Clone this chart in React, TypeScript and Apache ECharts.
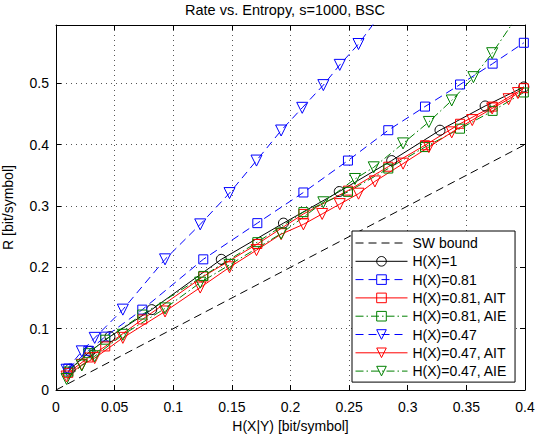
import React, { useEffect, useRef } from "react";
import * as echarts from "echarts";

// ---- data ----
const xTickLabels = ["0", "0.05", "0.1", "0.15", "0.2", "0.25", "0.3", "0.35", "0.4"];
const yTickLabels = ["0", "0.1", "0.2", "0.3", "0.4", "0.5"];

const swX = [0, 0.4];
const swY = [0, 0.4];

const h1X = [0.012, 0.029, 0.046, 0.0816, 0.141, 0.194, 0.2416, 0.2863, 0.3275, 0.366, 0.399];
const h1Y = [0.034, 0.063, 0.087, 0.131, 0.213, 0.272, 0.3235, 0.374, 0.4235, 0.463, 0.494];

const h081X = [0.0105, 0.0276, 0.042, 0.0736, 0.1256, 0.1717, 0.211, 0.249, 0.2834, 0.3147, 0.3446, 0.3724, 0.399];
const h081Y = [0.035, 0.064, 0.087, 0.131, 0.213, 0.272, 0.322, 0.374, 0.4235, 0.462, 0.498, 0.532, 0.566];
const h081AitY = [0.028, 0.053, 0.071, 0.115, 0.185, 0.238, 0.287, 0.325, 0.364, 0.399, 0.434, 0.462, 0.492];
const h081AieY = [0.03, 0.06, 0.082, 0.123, 0.186, 0.241, 0.29, 0.323, 0.361, 0.396, 0.426, 0.455, 0.485];

const h047X = [0.009, 0.022, 0.033, 0.057, 0.093, 0.123, 0.148, 0.171, 0.192, 0.21, 0.228, 0.242, 0.258, 0.272];
const h047Y = [0.033, 0.063, 0.085, 0.131, 0.213, 0.27, 0.321, 0.374, 0.423, 0.46, 0.497, 0.53, 0.564, 0.6];

const h047AitX = [0.009, 0.022, 0.033, 0.057, 0.093, 0.123, 0.148, 0.171, 0.192, 0.211, 0.227, 0.242, 0.258, 0.272, 0.296, 0.318, 0.3375, 0.355, 0.372, 0.386, 0.394];
const h047AitY = [0.022, 0.041, 0.052, 0.085, 0.128, 0.167, 0.2, 0.228, 0.254, 0.27, 0.287, 0.303, 0.32, 0.34, 0.369, 0.396, 0.42, 0.44, 0.459, 0.474, 0.484];

const h047AieX = [0.009, 0.022, 0.033, 0.057, 0.093, 0.123, 0.148, 0.192, 0.228, 0.255, 0.271, 0.296, 0.318, 0.3375, 0.356, 0.372, 0.399];
const h047AieY = [0.018, 0.04, 0.055, 0.09, 0.133, 0.175, 0.204, 0.255, 0.306, 0.344, 0.363, 0.402, 0.437, 0.472, 0.51, 0.549, 0.625];

const FONT = "Liberation Sans, Arial, Helvetica, sans-serif";
const BLUE = "#0000ff";
const RED = "#ff0000";
const GREEN = "#008000";
const BLACK = "#000000";
const DASH = [8, 5];
const DASHDOT = [8, 3, 1.5, 3];

function mk(
  name: string,
  xs: number[],
  ys: number[],
  color: string,
  dash: any,
  symbol: string,
  size: number,
  rotate: number
) {
  return {
    type: "line",
    name,
    data: xs.map((x, i) => [x, ys[i]]),
    symbol,
    symbolSize: size,
    symbolRotate: rotate,
    showSymbol: symbol !== "none",
    clip: true,
    lineStyle: { color, width: 1, type: dash },
    itemStyle: {
      color: "rgba(255,255,255,0)",
      borderColor: symbol === "none" ? "rgba(0,0,0,0)" : color,
      borderWidth: 1,
    },
    emphasis: { disabled: true },
    silent: true,
  };
}

export default function App() {
  const ref = useRef<HTMLDivElement>(null);
  useEffect(() => {
    document.body.style.margin = "0";
    if (!ref.current) return;
    const chart = echarts.init(ref.current, null, { renderer: "svg" });
    const gridLine = { show: true, lineStyle: { color: "#555", width: 1, type: [1, 4] } };
    const xFmt = (v: number) => {
      const i = Math.round(v / 0.05);
      return Math.abs(i * 0.05 - v) < 1e-6 && i < xTickLabels.length ? xTickLabels[i] : "";
    };
    const yFmt = (v: number) => {
      const i = Math.round(v / 0.1);
      return Math.abs(i * 0.1 - v) < 1e-6 && i < yTickLabels.length ? yTickLabels[i] : "";
    };
    const axisCommon = {
      axisLine: { show: true, onZero: false, lineStyle: { color: BLACK, width: 1 } },
      axisTick: { show: true, inside: true, length: 5, lineStyle: { color: BLACK } },
    };
    chart.setOption({
      animation: false,
      backgroundColor: "#fff",
      textStyle: { fontFamily: FONT },
      grid: { left: 56, top: 25, right: 10, bottom: 44, containLabel: false, outerBoundsMode: "none" },
      graphic: [
        {
          type: "text",
          x: 285,
          y: 10,
          style: {
            text: "Rate vs. Entropy, s=1000, BSC",
            fontSize: 14.5,
            fontFamily: FONT,
            fill: BLACK,
            textAlign: "center",
            textVerticalAlign: "middle",
          },
        },
      ],
      xAxis: [
        {
          type: "value",
          min: 0,
          max: 0.4,
          interval: 0.05,
          position: "bottom",
          ...axisCommon,
          splitLine: gridLine,
          axisLabel: { formatter: xFmt, color: BLACK, fontSize: 14, fontFamily: FONT, margin: 10 },
          name: "H(X|Y) [bit/symbol]",
          nameLocation: "middle",
          nameGap: 25,
          nameTextStyle: { color: BLACK, fontSize: 14, fontFamily: FONT },
        },
        {
          type: "value",
          min: 0,
          max: 0.4,
          interval: 0.05,
          position: "top",
          ...axisCommon,
          splitLine: { show: false },
          axisLabel: { show: false },
        },
      ],
      yAxis: [
        {
          type: "value",
          min: 0,
          max: 0.595,
          interval: 0.1,
          position: "left",
          ...axisCommon,
          splitLine: gridLine,
          axisLabel: { formatter: yFmt, color: BLACK, fontSize: 14, fontFamily: FONT, margin: 7 },
          name: "R [bit/symbol]",
          nameLocation: "middle",
          nameGap: 41,
          nameRotate: 90,
          nameTextStyle: { color: BLACK, fontSize: 14, fontFamily: FONT },
        },
        {
          type: "value",
          min: 0,
          max: 0.595,
          interval: 0.1,
          position: "right",
          ...axisCommon,
          splitLine: { show: false },
          axisLabel: { show: false },
        },
      ],
      legend: {
        orient: "vertical",
        left: 352,
        top: 231,
        itemWidth: 52,
        itemHeight: 12,
        itemGap: 4.3,
        padding: [5, 8, 4, 3],
        backgroundColor: "#fff",
        borderColor: BLACK,
        borderWidth: 1,
        borderRadius: 0,
        selectedMode: false,
        lineStyle: { width: 1 },
        itemStyle: { borderWidth: 1 },
        textStyle: { fontSize: 14, color: BLACK, fontFamily: FONT },
        data: [
          "SW bound",
          "H(X)=1",
          "H(X)=0.81",
          "H(X)=0.81, AIT",
          "H(X)=0.81, AIE",
          "H(X)=0.47",
          "H(X)=0.47, AIT",
          "H(X)=0.47, AIE",
        ],
      },
      series: [
        mk("SW bound", swX, swY, BLACK, DASH, "none", 0, 0),
        mk("H(X)=1", h1X, h1Y, BLACK, "solid", "circle", 10, 0),
        mk("H(X)=0.81", h081X, h081Y, BLUE, DASH, "rect", 9, 0),
        mk("H(X)=0.81, AIT", h081X, h081AitY, RED, "solid", "rect", 9, 0),
        mk("H(X)=0.81, AIE", h081X, h081AieY, GREEN, DASHDOT, "rect", 9, 0),
        mk("H(X)=0.47", h047X, h047Y, BLUE, DASH, "triangle", 11, 180),
        mk("H(X)=0.47, AIT", h047AitX, h047AitY, RED, "solid", "triangle", 11, 180),
        mk("H(X)=0.47, AIE", h047AieX, h047AieY, GREEN, DASHDOT, "triangle", 11, 180),
      ],
    });
    return () => chart.dispose();
  }, []);
  return (
    <div
      ref={ref}
      style={{ position: "fixed", left: 0, top: 0, width: 535, height: 434 }}
    />
  );
}
